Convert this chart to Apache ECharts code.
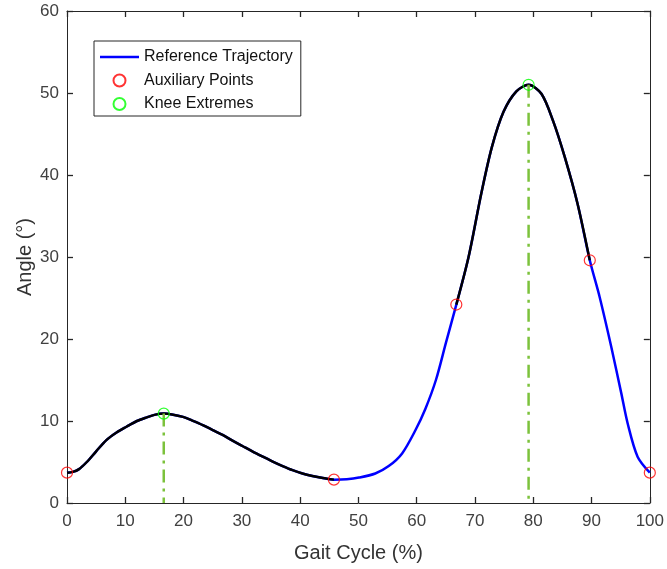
<!DOCTYPE html>
<html><head><meta charset="utf-8">
<script src="https://cdn.jsdelivr.net/npm/echarts@6/dist/echarts.min.js"></script>
<style>html,body{margin:0;padding:0;background:#fff}#c{width:667px;height:569px}</style>
</head><body><div id="c"></div>
<script>
// Reference trajectory (knee angle vs gait cycle)
const refX = [0, 1, 2, 3.4, 5, 6.8, 8.5, 10.2, 12, 13.7, 15, 16.6, 18, 19.9, 21.5, 23.3, 25, 26.7, 28.4, 30.1, 31.8, 33.6, 35.3, 37, 38.7, 40.4, 42.1, 43.9, 45.8, 48, 50.1, 52.9, 55.2, 57.5, 59.8, 61.5, 63.3, 65, 66.8, 68.9, 71.1, 72.9, 74.9, 77.1, 79.2, 81.4, 83.4, 85.4, 87.6, 89.7, 91.4, 93.4, 95.1, 96.2, 97.9, 100];
const refY = [3.7, 3.8, 4.1, 5.0, 6.3, 7.7, 8.6, 9.3, 10.0, 10.45, 10.75, 10.9, 10.8, 10.5, 10.05, 9.5, 8.9, 8.3, 7.6, 6.95, 6.3, 5.65, 5.05, 4.5, 4.0, 3.6, 3.3, 3.05, 2.85, 2.9, 3.1, 3.6, 4.5, 6.05, 8.9, 11.5, 15.0, 19.5, 24.2, 30.0, 37.8, 43.4, 47.7, 50.2, 51.0, 49.9, 46.6, 42.2, 36.5, 29.6, 25.1, 19.0, 13.4, 9.7, 5.65, 3.7];
// Segments drawn in black (generated trajectory), as x ranges
const genRanges = [[0, 45.8], [66.8, 89.7]];
// Auxiliary points
const auxX = [0, 45.8, 66.8, 89.7, 100];
const auxY = [3.7, 2.85, 24.2, 29.6, 3.7];
// Knee extremes
const extX = [16.6, 79.2];
const extY = [10.9, 51.0];
// Axes
const xMin = 0, xMax = 100, xStep = 10;
const yMin = 0, yMax = 60, yStep = 10;

const FONT = 'Liberation Sans, Arial, sans-serif';
const AX = '#262626';
const refData = refX.map((x, i) => [x, refY[i]]);

const series = [];
series.push({
  name: 'Reference Trajectory', type: 'line', data: refData, symbol: 'none',
  smooth: 0.3, lineStyle: { color: '#0000ff', width: 2.5 }, itemStyle: { color: '#0000ff' }, z: 2, silent: true
});
genRanges.forEach((r, k) => {
  series.push({
    name: 'Generated' + k, type: 'line', symbol: 'none', smooth: 0.3,
    data: refData.filter(p => p[0] >= r[0] && p[0] <= r[1]),
    lineStyle: { color: '#000000', width: 2.5 }, z: 3, silent: true
  });
});
extX.forEach((x, k) => {
  series.push({
    name: 'ExtLine' + k, type: 'line', symbol: 'none',
    data: [[x, extY[k]], [x, yMin]],
    lineStyle: { color: '#7cc23c', width: 2.5, type: [13, 6, 3, 6] }, z: 4, silent: true
  });
});
series.push({
  name: 'Auxiliary Points', type: 'scatter', symbol: 'circle', symbolSize: 11,
  data: auxX.map((x, i) => [x, auxY[i]]),
  itemStyle: { color: 'rgba(0,0,0,0)', borderColor: '#ff0000', borderWidth: 1.2 }, z: 5, silent: true
});
series.push({
  name: 'Knee Extremes', type: 'scatter', symbol: 'circle', symbolSize: 11,
  data: extX.map((x, i) => [x, extY[i]]),
  itemStyle: { color: 'rgba(0,0,0,0)', borderColor: '#00ff00', borderWidth: 1.2 }, z: 5, silent: true
});

function tick() { return { show: true, inside: true, length: 6, lineStyle: { color: AX, width: 1.3, opacity: 1 } }; }
function line() { return { show: true, onZero: false, lineStyle: { color: AX, width: 1 } }; }
const blankLabel = { show: true, formatter: () => '' };
const option = {
  animation: false,
  backgroundColor: '#fff',
  grid: { left: 67, right: 15, top: 11, bottom: 66, containLabel: false },
  legend: {
    data: [
      { name: 'Reference Trajectory', icon: 'path://M0,0H39V2.5H0Z' },
      { name: 'Auxiliary Points' },
      { name: 'Knee Extremes' }
    ],
    orient: 'vertical', left: 94, top: 41,
    itemWidth: 39, itemHeight: 12, itemGap: 7.5,
    padding: [8, 8, 4, 6],
    borderColor: AX, borderWidth: 1, borderRadius: 0, backgroundColor: '#fff',
    textStyle: { fontFamily: FONT, fontSize: 16, color: '#111' },
    selectedMode: false
  },
  xAxis: [{
    type: 'value', min: xMin, max: xMax, interval: xStep, position: 'bottom', gridIndex: 0,
    name: 'Gait Cycle (%)', nameLocation: 'middle', nameGap: 40,
    nameTextStyle: { fontFamily: FONT, fontSize: 20, color: '#333' },
    axisLine: line(), axisTick: tick(), splitLine: { show: false },
    axisLabel: { fontFamily: FONT, fontSize: 17, color: '#404040', margin: 10 }
  }, {
    type: 'value', min: xMin, max: xMax, interval: xStep, position: 'top', gridIndex: 0,
    axisLine: line(), axisTick: tick(), splitLine: { show: false },
    axisLabel: blankLabel
  }],
  yAxis: [{
    type: 'value', min: yMin, max: yMax, interval: yStep, position: 'left', gridIndex: 0,
    name: 'Angle (°)', nameLocation: 'middle', nameGap: 32, nameRotate: 90, nameMoveOverlap: false,
    nameTextStyle: { fontFamily: FONT, fontSize: 20, color: '#333' },
    axisLine: line(), axisTick: tick(), splitLine: { show: false },
    axisLabel: { fontFamily: FONT, fontSize: 17, color: '#404040', margin: 8 }
  }, {
    type: 'value', min: yMin, max: yMax, interval: yStep, position: 'right', gridIndex: 0,
    axisLine: line(), axisTick: tick(), splitLine: { show: false },
    axisLabel: blankLabel
  }],
  series: series
};
const chart = echarts.init(document.getElementById('c'), null, { renderer: 'canvas' });
chart.setOption(option);
</script>
</body></html>
